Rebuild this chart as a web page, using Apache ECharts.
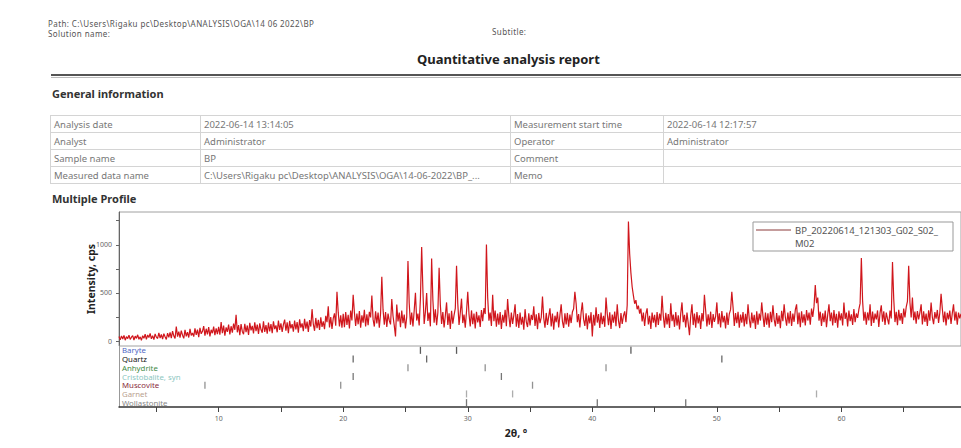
<!DOCTYPE html>
<html lang="en">
<head>
<meta charset="UTF-8">
<title>Quantitative analysis report</title>
<script src="https://cdn.jsdelivr.net/npm/echarts@6/dist/echarts.min.js"></script>
<style>
    body { margin: 0; background: #fff; font-family: "Noto Sans", sans-serif; color: #555; }
    #page { position: relative; width: 961px; height: 448px; overflow: hidden; }
    .t { position: absolute; white-space: nowrap; line-height: 1; }
    .small { font-size: 8px; color: #555; letter-spacing: 0.4px; }
    .head { font-size: 11px; font-weight: bold; color: #333; }
    #title { left: 417px; top: 53px; font-size: 13px; font-weight: bold; color: #222; }
    #rule1 { position: absolute; left: 51px; top: 74px; width: 910px; height: 2px; background: #555; }
    #rule2 { position: absolute; left: 51px; top: 77px; width: 910px; height: 1px; background: #bbb; }
    #info { position: absolute; left: 50px; top: 115px; border-collapse: collapse; table-layout: fixed; width: 960px; }
    #info td { border: 1px solid #d4d4d4; height: 16px; padding: 0 0 0 3px; font-size: 9.5px; color: #777; white-space: nowrap; overflow: hidden; }
    #chart { position: absolute; left: 0; top: 200px; width: 961px; height: 248px; }
</style>
</head>
<body>
<div id="page">
    <div class="t small" style="left:48px;top:20px;">Path: C:\Users\Rigaku pc\Desktop\ANALYSIS\OGA\14 06 2022\BP</div>
    <div class="t small" style="left:48px;top:29.5px;">Solution name:</div>
    <div class="t small" style="left:492px;top:28px;">Subtitle:</div>
    <div class="t" id="title">Quantitative analysis report</div>
    <div id="rule1"></div>
    <div id="rule2"></div>
    <div class="t head" style="left:52px;top:88px;">General information</div>
    <table id="info">
        <colgroup><col style="width:150px"><col style="width:310px"><col style="width:153px"><col style="width:347px"></colgroup>
        <tr><td>Analysis date</td><td>2022-06-14 13:14:05</td><td>Measurement start time</td><td>2022-06-14 12:17:57</td></tr>
        <tr><td>Analyst</td><td>Administrator</td><td>Operator</td><td>Administrator</td></tr>
        <tr><td>Sample name</td><td>BP</td><td>Comment</td><td></td></tr>
        <tr><td>Measured data name</td><td>C:\Users\Rigaku pc\Desktop\ANALYSIS\OGA\14-06-2022\BP_...</td><td>Memo</td><td></td></tr>
    </table>
    <div class="t head" style="left:52px;top:193px;">Multiple Profile</div>
    <!--图形的容器-->
    <div id="chart"></div>
</div>

<script>
    // measured profile, 2θ from 2.0° in 0.1° steps (cps)
    var angleStart = 2.0;
    var angleStep = 0.1;
    var intensity = [
        48, 14, 55, 22, 60, 10, 47, 26, 63, 18, 41, 58, 12, 52, 29, 66, 20, 45, 8, 57,
        30, 72, 19, 64, 38, 81, 24, 58, 16, 75, 42, 28, 86, 33, 69, 21, 77, 45, 18, 83,
        40, 92, 31, 104, 55, 28, 152, 47, 98, 36, 110, 62, 29, 118, 51, 94, 38, 127, 60, 85,
        48, 132, 66, 121, 42, 138, 77, 102, 156, 58, 129, 71, 145, 50, 118, 83, 151, 62, 134, 74,
        149, 68, 198, 82, 161, 57, 144, 96, 172, 70, 155, 88, 182, 118, 274, 92, 166, 63, 177, 101,
        73, 181, 94, 163, 66, 190, 112, 158, 81, 196, 104, 172, 75, 184, 121, 88, 205, 97, 168, 79,
        192, 101, 178, 84, 207, 126, 163, 92, 214, 118, 186, 97, 172, 223, 108, 195, 83, 211, 132, 176,
        98, 214, 121, 197, 88, 226, 140, 185, 103, 233, 129, 204, 96, 219, 152, 332, 176, 108, 241, 134,
        221, 117, 248, 149, 206, 124, 263, 198, 362, 143, 251, 128, 236, 289, 160, 512, 301, 152, 268, 139,
        284, 146, 301, 169, 273, 131, 318, 214, 482, 296, 158, 287, 175, 312, 139, 268, 192, 325, 154, 279,
        165, 304, 247, 474, 226, 152, 311, 183, 296, 141, 288, 668, 327, 170, 302, 148, 286, 213, 174, 437,
        261, 162, 48, 379, 205, 297, 144, 318, 186, 277, 132, 252, 832, 394, 171, 298, 153, 318, 502, 214,
        287, 162, 446, 978, 521, 178, 304, 499, 209, 296, 154, 858, 428, 192, 331, 167, 298, 762, 374, 178,
        302, 143, 266, 402, 168, 289, 127, 314, 182, 271, 340, 782, 386, 169, 296, 441, 188, 276, 139, 308,
        512, 281, 152, 319, 176, 287, 133, 305, 194, 268, 147, 322, 208, 344, 281, 1002, 452, 213, 296, 158,
        482, 207, 318, 149, 286, 171, 302, 128, 274, 193, 326, 156, 437, 262, 144, 298, 179, 271, 382, 151,
        281, 136, 296, 172, 253, 118, 332, 201, 147, 288, 163, 274, 219, 362, 158, 279, 124, 293, 187, 246,
        462, 238, 141, 293, 169, 258, 341, 152, 287, 118, 264, 196, 305, 143, 271, 382, 206, 137, 288, 174,
        293, 151, 276, 188, 302, 336, 512, 391, 198, 281, 142, 296, 402, 226, 158, 289, 123, 267, 184, 301,
        48, 274, 162, 352, 193, 281, 137, 298, 176, 263, 149, 452, 284, 167, 299, 128, 276, 192, 308, 155,
        382, 214, 136, 291, 178, 264, 309, 196, 372, 1242, 904, 706, 562, 472, 388, 426, 331, 368, 286, 338,
        204, 296, 158, 284, 341, 173, 262, 126, 298, 191, 273, 144, 302, 168, 286, 213, 472, 261, 139, 294,
        174, 281, 136, 392, 208, 276, 149, 303, 162, 268, 121, 289, 402, 197, 273, 142, 296, 184, 62, 262,
        382, 167, 286, 139, 301, 184, 269, 128, 292, 206, 482, 318, 154, 279, 172, 306, 137, 281, 199, 258,
        402, 176, 289, 143, 312, 194, 263, 131, 297, 168, 284, 327, 512, 351, 158, 291, 186, 304, 141, 276,
        193, 301, 152, 284, 176, 382, 233, 139, 298, 187, 274, 128, 309, 171, 286, 214, 402, 263, 148, 296,
        172, 288, 139, 304, 196, 372, 226, 153, 291, 178, 267, 134, 316, 208, 382, 246, 161, 297, 183, 312,
        158, 286, 201, 327, 382, 177, 298, 146, 311, 192, 278, 163, 324, 214, 296, 171, 338, 252, 361, 582,
        394, 452, 213, 306, 158, 289, 196, 318, 144, 276, 382, 207, 297, 162, 324, 189, 283, 141, 309, 216,
        288, 164, 402, 231, 296, 152, 318, 207, 279, 168, 334, 196, 287, 241, 329, 392, 862, 418, 213, 304,
        171, 298, 216, 382, 158, 307, 189, 286, 226, 319, 147, 293, 372, 202, 311, 168, 296, 231, 174, 318,
        236, 822, 438, 198, 304, 167, 326, 214, 291, 178, 338, 246, 352, 412, 782, 401, 246, 452, 218, 306,
        182, 312, 226, 297, 382, 174, 309, 201, 286, 158, 321, 213, 402, 248, 176, 302, 233, 324, 189, 297,
        492, 338, 196, 307, 162, 294, 226, 318, 178, 289, 382, 214, 306, 171, 297, 236, 284
    ];

    // phase stick patterns (2θ positions)
    var phases = ['Baryte', 'Quartz', 'Anhydrite', 'Cristobalite, syn', 'Muscovite', 'Garnet', 'Wollastonite'];
    var barytePeaks = [26.2, 29.1, 43.1];
    var quartzPeaks = [20.8, 26.7, 50.4];
    var anhydritePeaks = [25.2, 31.4, 41.1];
    var cristobalitePeaks = [20.8, 32.7];
    var muscovitePeaks = [8.9, 19.8, 35.2];
    var garnetPeaks = [29.9, 33.6, 58.0];
    var wollastonitePeaks = [29.9, 40.4, 47.5];

    // axis ticks
    var xLabelValues = [10, 20, 30, 40, 50, 60];
    var xTickValues = [5, 10, 15, 20, 25, 30, 35, 40, 45, 50, 55, 60, 65];
    var yLabelValues = [0, 500, 1000];
    var yTickValues = [0, 250, 500, 750, 1000, 1250];

    var legendLines = ['BP_20220614_121303_G02_S02_', 'M02'];

    var profileColor = '#d0161c';
    var phaseLabelColors = ['#4f67c4', '#111111', '#3f8a45', '#8cc7bf', '#8a2b3c', '#b9a18f', '#888888'];
    var stickColors = ['#333', '#444', '#777', '#555', '#777', '#999', '#555'];

    var myEcharts = echarts.init(document.getElementById('chart'), null, {renderer: 'svg'});

    var profile = intensity.map(function (v, i) {
        return [+(angleStart + i * angleStep).toFixed(1), v];
    });
    var stickSets = [barytePeaks, quartzPeaks, anhydritePeaks, cristobalitePeaks, muscovitePeaks, garnetPeaks, wollastonitePeaks];

    var series = [{
        name: legendLines.join(''),
        type: 'line',
        xAxisIndex: 0,
        yAxisIndex: 0,
        data: profile,
        showSymbol: false,
        sampling: null,
        lineStyle: {color: profileColor, width: 1.2},
        itemStyle: {color: profileColor},
        silent: true
    }];
    stickSets.forEach(function (peaks, i) {
        series.push({
            name: phases[i],
            type: 'scatter',
            xAxisIndex: 1,
            yAxisIndex: 1,
            symbol: 'rect',
            symbolSize: [1.3, 7],
            itemStyle: {color: stickColors[i]},
            data: peaks.map(function (p) { return [p, phases[i]]; }),
            silent: true
        });
    });

    var textFont = '"Noto Sans", sans-serif';

    var option = {
        animation: false,
        textStyle: {fontFamily: textFont},
        grid: [
            {left: 119, right: 0, top: 12, height: 134, show: true, borderColor: '#a0a0a0', borderWidth: 1},
            {left: 119, right: 0, top: 146, height: 61}
        ],
        xAxis: [{
            type: 'value', gridIndex: 0, min: 2, max: 69.6,
            axisLine: {show: false}, axisTick: {show: false}, axisLabel: {show: false}, splitLine: {show: false}
        }, {
            type: 'value', gridIndex: 1, min: 2, max: 69.6,
            name: '2θ, °', nameLocation: 'middle', nameGap: 20,
            nameTextStyle: {fontSize: 10.5, fontWeight: 'bold', color: '#222', padding: [0, 48, 0, 0]},
            axisLine: {show: true, onZero: false, lineStyle: {color: '#333', width: 1.5}},
            axisTick: {show: true, length: 5, customValues: xTickValues, lineStyle: {color: '#444'}},
            axisLabel: {customValues: xLabelValues, fontSize: 7, color: '#666', margin: 8},
            splitLine: {show: false}
        }],
        yAxis: [{
            type: 'value', gridIndex: 0, min: -50, max: 1340,
            name: 'Intensity, cps', nameLocation: 'middle', nameGap: 23, nameMoveOverlap: false,
            nameTextStyle: {fontSize: 10.5, fontWeight: 'bold', color: '#222'},
            axisLine: {show: true, lineStyle: {color: '#666'}},
            axisTick: {show: true, length: 3, customValues: yTickValues, lineStyle: {color: '#666'}},
            axisLabel: {
                customValues: yLabelValues, fontSize: 7, color: '#666', margin: 7,
                formatter: function (v) { return String(v); }
            },
            splitLine: {show: false}
        }, {
            type: 'category', gridIndex: 1, data: phases, inverse: true,
            axisLine: {show: true, lineStyle: {color: '#999'}},
            axisTick: {show: false},
            axisLabel: {
                inside: true, margin: 3, fontSize: 7.8, lineHeight: 8, interval: 0,
                color: function (value) { return phaseLabelColors[phases.indexOf(value)]; }
            },
            splitLine: {show: false}
        }],
        graphic: [
            {type: 'rect', shape: {x: 753, y: 22, width: 200, height: 29}, style: {fill: '#fff', stroke: '#999', lineWidth: 1}, z: 10},
            {type: 'line', shape: {x1: 756, y1: 30, x2: 791, y2: 30}, style: {stroke: '#8b3a3a', lineWidth: 1}, z: 11},
            {type: 'text', x: 795, y: 30, style: {text: legendLines[0], font: '9.5px ' + textFont, fill: '#555', verticalAlign: 'middle'}, z: 11},
            {type: 'text', x: 795, y: 43, style: {text: legendLines[1], font: '9.5px ' + textFont, fill: '#555', verticalAlign: 'middle'}, z: 11}
        ],
        series: series
    };

    myEcharts.setOption(option);
</script>
</body>
</html>
